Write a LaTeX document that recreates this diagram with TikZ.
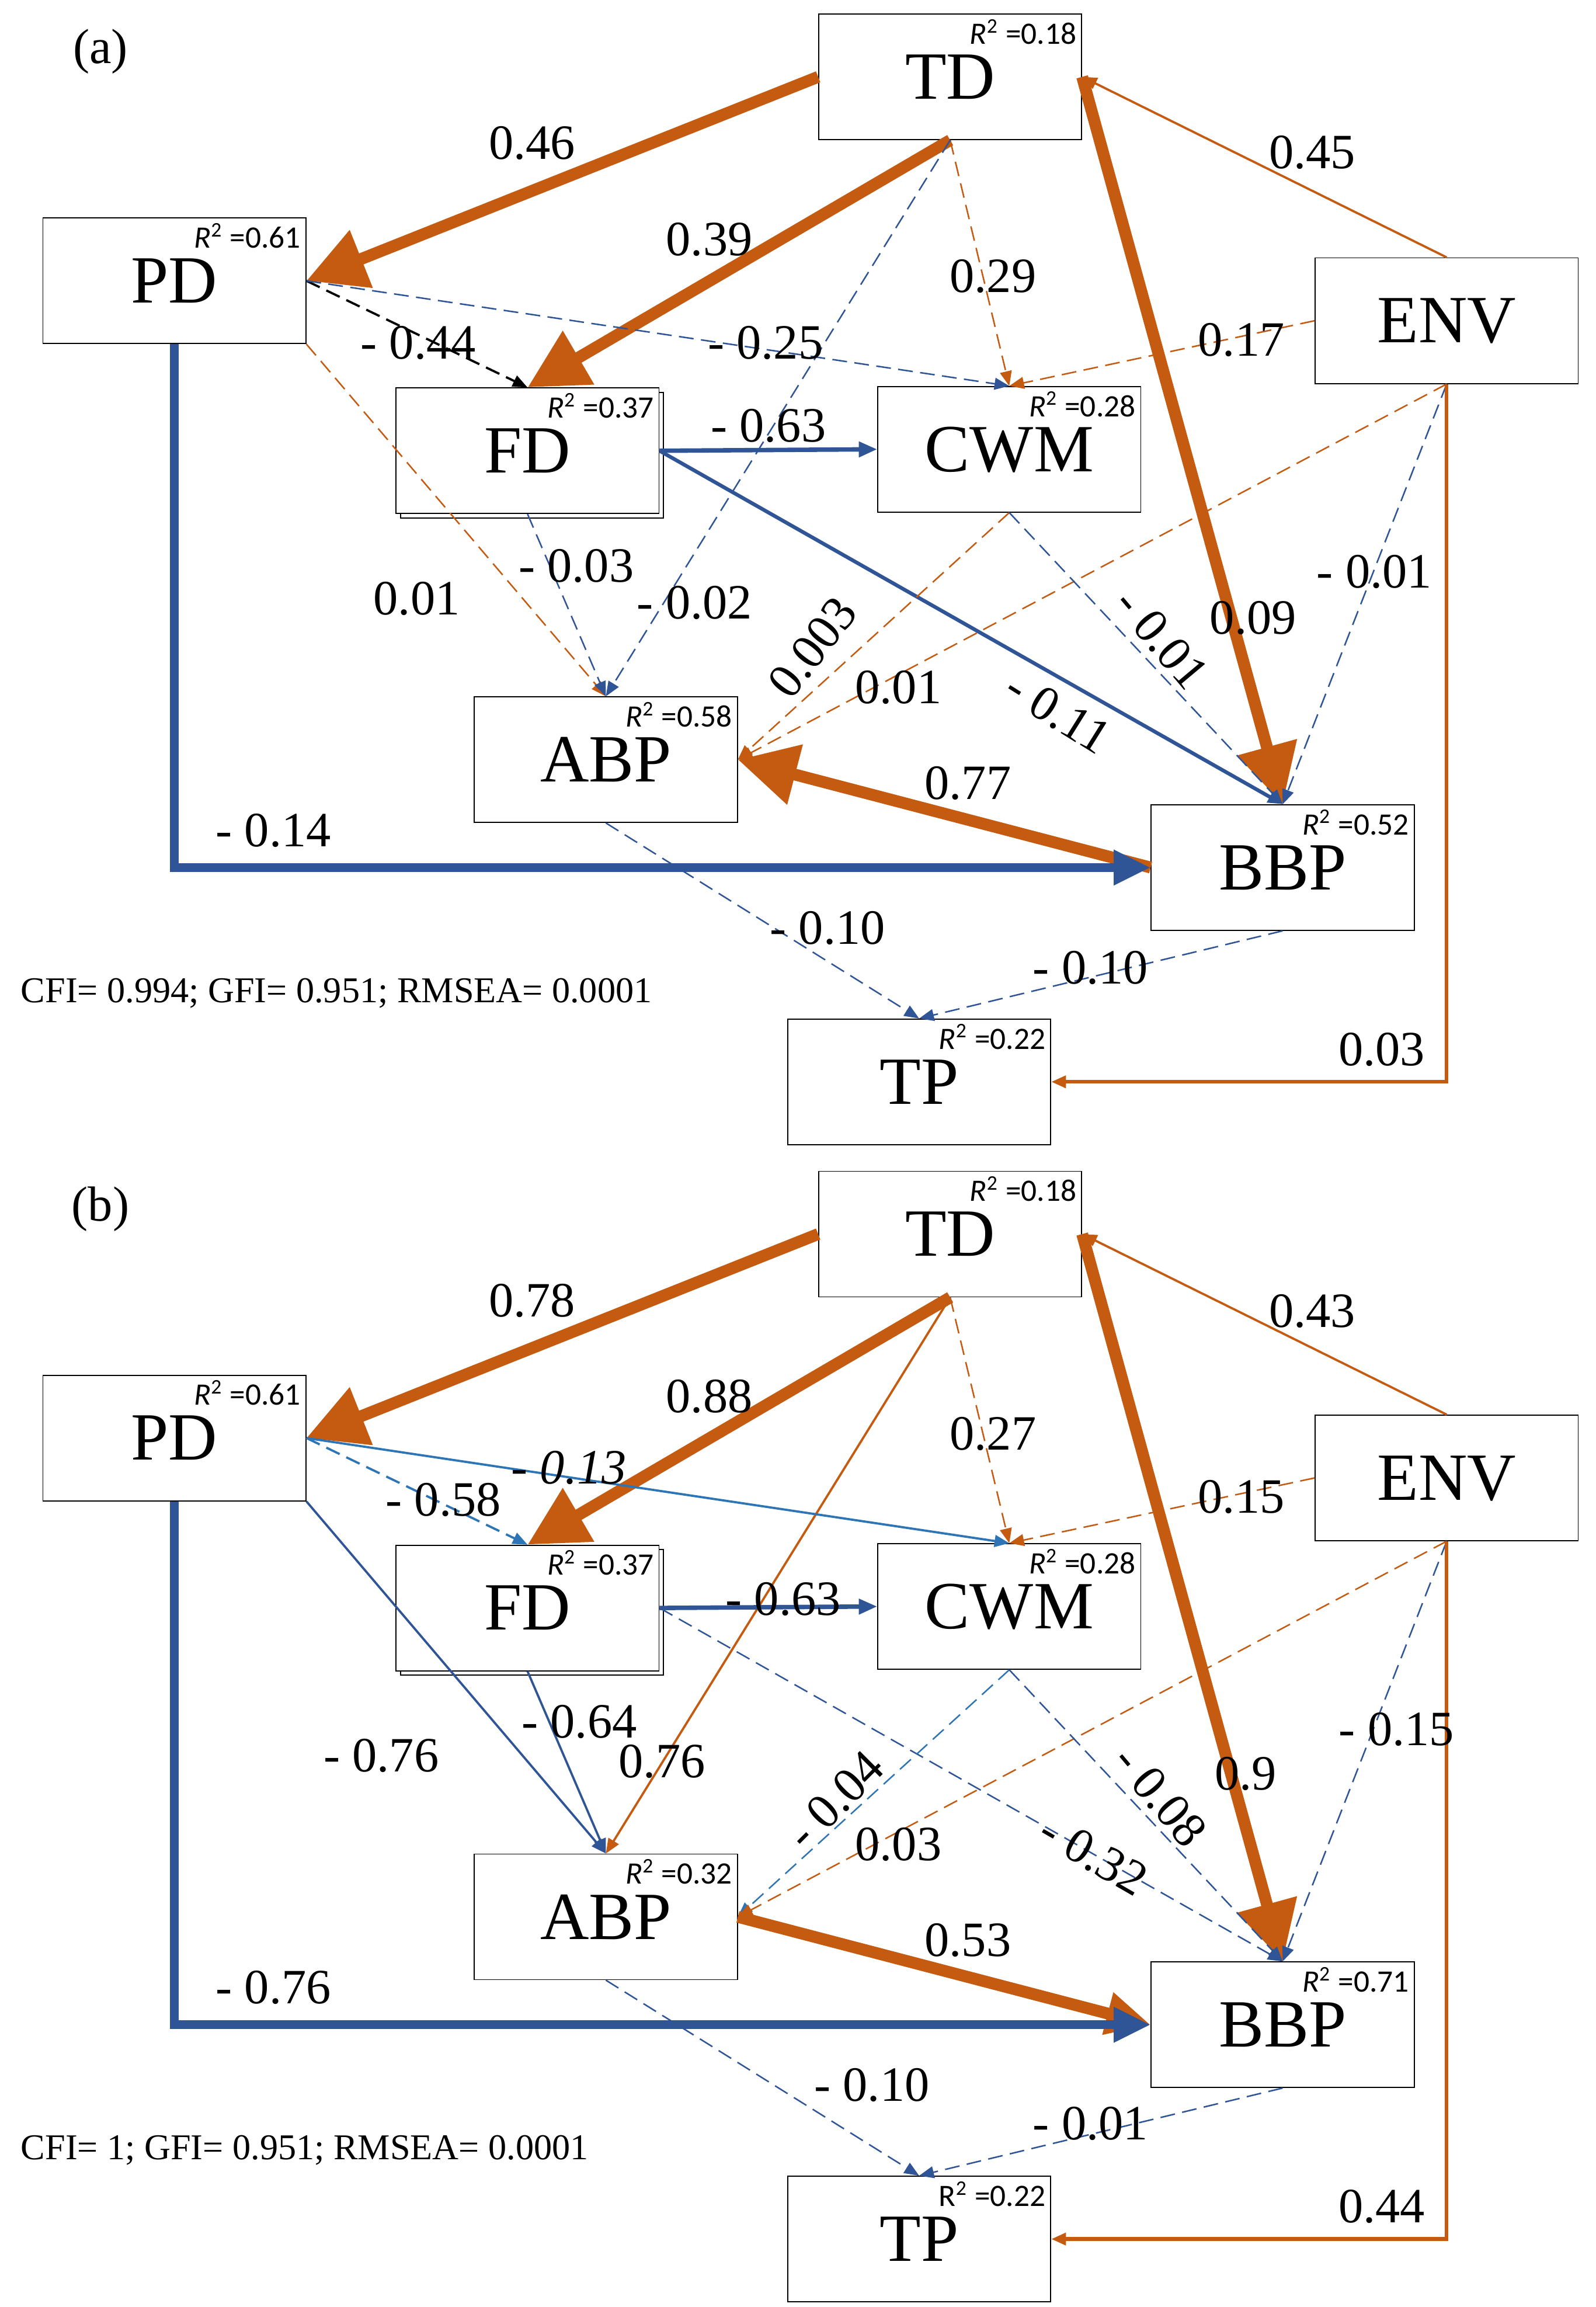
\documentclass[tikz,border=0pt]{standalone}
\usepackage{fontspec}
\setmainfont{Liberation Serif}
\newfontfamily\rfont{Carlito}
\usetikzlibrary{arrows.meta,shadows}
\definecolor{myorange}{RGB}{197,90,17}
\definecolor{myblue}{RGB}{47,85,151}
\definecolor{mylightblue}{RGB}{46,117,182}
\newcommand{\rsq}[1]{{\rfont\textit{R}\textsuperscript{2} =#1}}
\newcommand{\rsqup}[1]{{\rfont R\textsuperscript{2} =#1}}
\begin{document}
\begin{tikzpicture}[
        x=0.02cm, y=-0.02cm,
        box/.style={draw=black, fill=white, minimum width=3.56cm, minimum height=1.7cm, font=\fontsize{26}{28}\selectfont, text depth=-0.45cm},
        fdbox/.style={box, copy shadow={shadow xshift=0.06cm, shadow yshift=-0.06cm, draw=black, fill=white}},
        rlabel/.style={anchor=north east, inner sep=2pt, font=\fontsize{12}{14}\selectfont},
        coef/.style={font=\fontsize{19}{21}\selectfont, inner sep=1pt},
        fit_node/.style={anchor=west, font=\fontsize{14}{16}\selectfont},
        big/.style={line width=0.16cm, -{Triangle[length=0.8cm,width=0.8cm]}},
        bluebig/.style={line width=0.12cm, -{Triangle[length=0.5cm,width=0.45cm]}},
        mid/.style={line width=0.06cm, -{Triangle[length=0.25cm,width=0.2cm]}},
        thin/.style={line width=0.03cm, -{Triangle[length=0.2cm,width=0.16cm]}},
        dashedge/.style={thin, line width=0.02cm, dash pattern=on 0.2cm off 0.1cm}
    ]
    \useasboundingbox (0,0) rectangle (1080,1561);

    % panel (a)
    \node[font=\fontsize{19}{21}\selectfont] (taga) at (68,35) {(a)};
    \node[box] (TDa) at (643,52) {TD};
    \node[box] (PDa) at (118,190) {PD};
    \node[box] (ENVa) at (979,217) {ENV};
    \node[fdbox] (FDa) at (357,305) {FD};
    \node[box] (CWMa) at (683,304) {CWM};
    \node[box] (ABPa) at (410,514) {ABP};
    \node[box] (BBPa) at (868,587) {BBP};
    \node[box] (TPa) at (622,732) {TP};
    \node[rlabel] (rTDa) at (TDa.north east) {\rsq{0.18}};
    \node[rlabel] (rPDa) at (PDa.north east) {\rsq{0.61}};
    \node[rlabel] (rFDa) at (FDa.north east) {\rsq{0.37}};
    \node[rlabel] (rCWMa) at (CWMa.north east) {\rsq{0.28}};
    \node[rlabel] (rABPa) at (ABPa.north east) {\rsq{0.58}};
    \node[rlabel] (rBBPa) at (BBPa.north east) {\rsq{0.52}};
    \node[rlabel] (rTPa) at (TPa.north east) {\rsq{0.22}};

    \draw[big, myorange] (TDa.west) -- (PDa.east);
    \draw[big, myorange] (TDa.south) -- (FDa.north);
    \draw[dashedge, myorange] (TDa.south) -- (CWMa.north);
    \draw[dashedge, myblue] (TDa.south) -- (ABPa.north);
    \draw[big, myorange] (TDa.east) -- (BBPa.north);
    \draw[thin, myorange] (ENVa.north) -- (TDa.east);
    \draw[dashedge, black, line width=0.03cm] (PDa.east) -- (FDa.north);
    \draw[dashedge, myblue] (PDa.east) -- (CWMa.north);
    \draw[dashedge, myorange] (ENVa.west) -- (CWMa.north);
    \draw[mid, myblue] (FDa.east) -- (CWMa.west);
    \draw[thin, myblue, line width=0.05cm] (FDa.east) -- (BBPa.north);
    \draw[dashedge, myorange] (PDa.south east) -- (ABPa.north);
    \draw[dashedge, myblue] (FDa.south) -- (ABPa.north);
    \draw[dashedge, myorange] (CWMa.south) -- (ABPa.east);
    \draw[dashedge, myorange] (ENVa.south) -- (ABPa.east);
    \draw[dashedge, myblue] (CWMa.south) -- (BBPa.north);
    \draw[dashedge, myblue] (ENVa.south) -- (BBPa.north);
    \draw[big, myorange] (BBPa.west) -- (ABPa.east);
    \draw[bluebig, myblue] (PDa.south) |- (BBPa.west);
    \draw[dashedge, myblue] (ABPa.south) -- (TPa.north);
    \draw[dashedge, myblue] (BBPa.south) -- (TPa.north);
    \draw[thin, myorange, line width=0.05cm] (ENVa.south) |- (TPa.east);

    \node[coef] (c1a) at (360,97) {0.46};
    \node[coef] (c2a) at (480,162) {0.39};
    \node[coef] (c3a) at (672,187) {0.29};
    \node[coef] (c4a) at (470,408) {- 0.02};
    \node[coef] (c5a) at (848,418) {0.09};
    \node[coef] (c6a) at (888,103) {0.45};
    \node[coef] (c7a) at (283,232) {- 0.44};
    \node[coef] (c8a) at (518,232) {- 0.25};
    \node[coef] (c9a) at (840,230) {0.17};
    \node[coef] (c10a) at (520,288) {- 0.63};
    \node[coef, rotate=-32] (c11a) at (716,482) {- 0.11};
    \node[coef] (c12a) at (282,405) {0.01};
    \node[coef] (c13a) at (390,383) {- 0.03};
    \node[coef, rotate=52] (c14a) at (550,438) {0.003};
    \node[coef] (c15a) at (608,465) {0.01};
    \node[coef, rotate=-50] (c16a) at (786,432) {- 0.01};
    \node[coef] (c17a) at (930,387) {- 0.01};
    \node[coef] (c18a) at (655,530) {0.77};
    \node[coef] (c19a) at (185,562) {- 0.14};
    \node[coef] (c20a) at (560,628) {- 0.10};
    \node[coef] (c21a) at (738,655) {- 0.10};
    \node[coef] (c22a) at (935,710) {0.03};
    \node[fit_node] (fita) at (8,672) {CFI= 0.994; GFI= 0.951; RMSEA= 0.0001};

    % panel (b)
    \node[font=\fontsize{19}{21}\selectfont] (tagb) at (68,818) {(b)};
    \node[box] (TDb) at (643,835) {TD};
    \node[box] (PDb) at (118,973) {PD};
    \node[box] (ENVb) at (979,1000) {ENV};
    \node[fdbox] (FDb) at (357,1088) {FD};
    \node[box] (CWMb) at (683,1087) {CWM};
    \node[box] (ABPb) at (410,1297) {ABP};
    \node[box] (BBPb) at (868,1370) {BBP};
    \node[box] (TPb) at (622,1515) {TP};
    \node[rlabel] (rTDb) at (TDb.north east) {\rsq{0.18}};
    \node[rlabel] (rPDb) at (PDb.north east) {\rsq{0.61}};
    \node[rlabel] (rFDb) at (FDb.north east) {\rsq{0.37}};
    \node[rlabel] (rCWMb) at (CWMb.north east) {\rsq{0.28}};
    \node[rlabel] (rABPb) at (ABPb.north east) {\rsq{0.32}};
    \node[rlabel] (rBBPb) at (BBPb.north east) {\rsq{0.71}};
    \node[rlabel] (rTPb) at (TPb.north east) {\rsqup{0.22}};

    \draw[big, myorange] (TDb.west) -- (PDb.east);
    \draw[big, myorange] (TDb.south) -- (FDb.north);
    \draw[dashedge, myorange] (TDb.south) -- (CWMb.north);
    \draw[thin, myorange] (TDb.south) -- (ABPb.north);
    \draw[big, myorange] (TDb.east) -- (BBPb.north);
    \draw[thin, myorange] (ENVb.north) -- (TDb.east);
    \draw[dashedge, mylightblue, line width=0.03cm] (PDb.east) -- (FDb.north);
    \draw[thin, mylightblue] (PDb.east) -- (CWMb.north);
    \draw[dashedge, myorange] (ENVb.west) -- (CWMb.north);
    \draw[mid, myblue] (FDb.east) -- (CWMb.west);
    \draw[dashedge, myblue] (FDb.east) -- (BBPb.north);
    \draw[thin, myblue] (PDb.south east) -- (ABPb.north);
    \draw[thin, myblue] (FDb.south) -- (ABPb.north);
    \draw[dashedge, mylightblue] (CWMb.south) -- (ABPb.east);
    \draw[dashedge, myorange] (ENVb.south) -- (ABPb.east);
    \draw[dashedge, myblue] (CWMb.south) -- (BBPb.north);
    \draw[dashedge, myblue] (ENVb.south) -- (BBPb.north);
    \draw[big, myorange, -{Triangle[length=0.6cm,width=0.55cm]}] (ABPb.east) -- (BBPb.west);
    \draw[bluebig, myblue] (PDb.south) |- (BBPb.west);
    \draw[dashedge, myblue] (ABPb.south) -- (TPb.north);
    \draw[dashedge, myblue] (BBPb.south) -- (TPb.north);
    \draw[thin, myorange, line width=0.05cm] (ENVb.south) |- (TPb.east);

    \node[coef] (c1b) at (360,880) {0.78};
    \node[coef] (c2b) at (480,945) {0.88};
    \node[coef] (c3b) at (672,970) {0.27};
    \node[coef] (c4b) at (448,1192) {0.76};
    \node[coef] (c5b) at (843,1200) {0.9};
    \node[coef] (c6b) at (888,887) {0.43};
    \node[coef] (c7b) at (300,1015) {- 0.58};
    \node[coef] (c8b) at (385,993) {- \textit{0.13}};
    \node[coef] (c9b) at (840,1013) {0.15};
    \node[coef] (c10b) at (530,1082) {- 0.63};
    \node[coef, rotate=-30] (c11b) at (740,1255) {- 0.32};
    \node[coef] (c12b) at (258,1188) {- 0.76};
    \node[coef] (c13b) at (392,1165) {- 0.64};
    \node[coef, rotate=45] (c14b) at (565,1218) {- 0.04};
    \node[coef] (c15b) at (608,1248) {0.03};
    \node[coef, rotate=-50] (c16b) at (785,1215) {- 0.08};
    \node[coef] (c17b) at (945,1170) {- 0.15};
    \node[coef] (c18b) at (655,1313) {0.53};
    \node[coef] (c19b) at (185,1345) {- 0.76};
    \node[coef] (c20b) at (590,1411) {- 0.10};
    \node[coef] (c21b) at (738,1437) {- 0.01};
    \node[coef] (c22b) at (935,1493) {0.44};
    \node[fit_node] (fitb) at (8,1455) {CFI= 1; GFI= 0.951; RMSEA= 0.0001};
\end{tikzpicture}
\end{document}
